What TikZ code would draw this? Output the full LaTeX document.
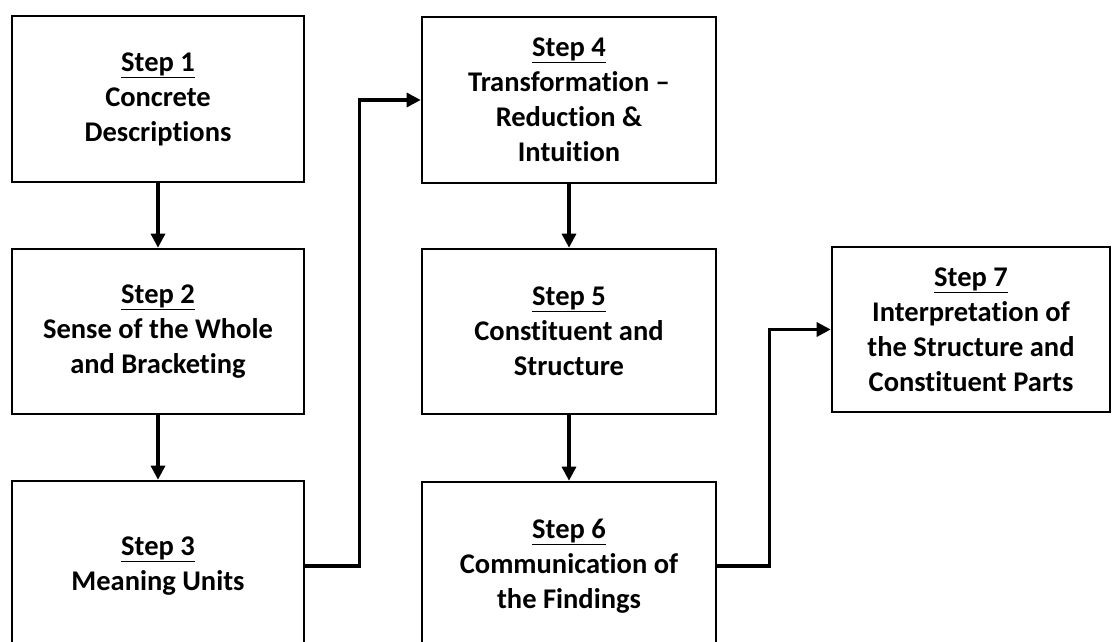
\documentclass[tikz,border=0pt]{standalone}
\usepackage{fontspec}
\setmainfont[Ligatures=NoCommon]{Carlito}
\usetikzlibrary{arrows.meta}
\tikzset{
  stepbox/.style={draw, line width=2.6pt, align=center, inner sep=0pt,
    font=\fontsize{28.5pt}{35pt}\selectfont\bfseries},
  conn/.style={line width=3.2pt, -{Triangle[length=14pt,width=14pt]}},
}
\newcommand{\stepttl}[1]{\underline{Step #1}}
\begin{document}
\begin{tikzpicture}[x=1pt,y=-1pt]
\useasboundingbox (0,0) rectangle (1112,642);
\clip (0,0) rectangle (1112,642);
\node[stepbox, minimum width=292pt, minimum height=166pt] (s1) at (158,99) {\stepttl{1}\\Concrete\\Descriptions};
\node[stepbox, minimum width=292pt, minimum height=165pt] (s2) at (158,331.5) {\stepttl{2}\\Sense of the Whole\\and Bracketing};
\node[stepbox, minimum width=292pt, minimum height=170pt] (s3) at (158,566) {\stepttl{3}\\Meaning Units};
\node[stepbox, minimum width=294pt, minimum height=166pt] (s4) at (569,100) {\stepttl{4}\\Transformation --\\Reduction \&\\Intuition};
\node[stepbox, minimum width=294pt, minimum height=165pt] (s5) at (569,331.5) {\stepttl{5}\\Constituent and\\Structure};
\node[stepbox, minimum width=294pt, minimum height=168pt] (s6) at (569,566) {\stepttl{6}\\Communication of\\the Findings};
\node[stepbox, minimum width=278pt, minimum height=165pt] (s7) at (971,329.5) {\stepttl{7}\\Interpretation of\\the Structure and\\Constituent Parts};
\draw[conn] (s1.south) -- (s2.north);
\draw[conn] (s2.south) -- (s3.north);
\draw[conn] (s4.south) -- (s5.north);
\draw[conn] (s5.south) -- (s6.north);
\draw[conn] (s3.east) -- ++(54,0) |- (s4.west);
\draw[conn] (s6.east) -- ++(52,0) |- (s7.west);
\end{tikzpicture}
\end{document}
